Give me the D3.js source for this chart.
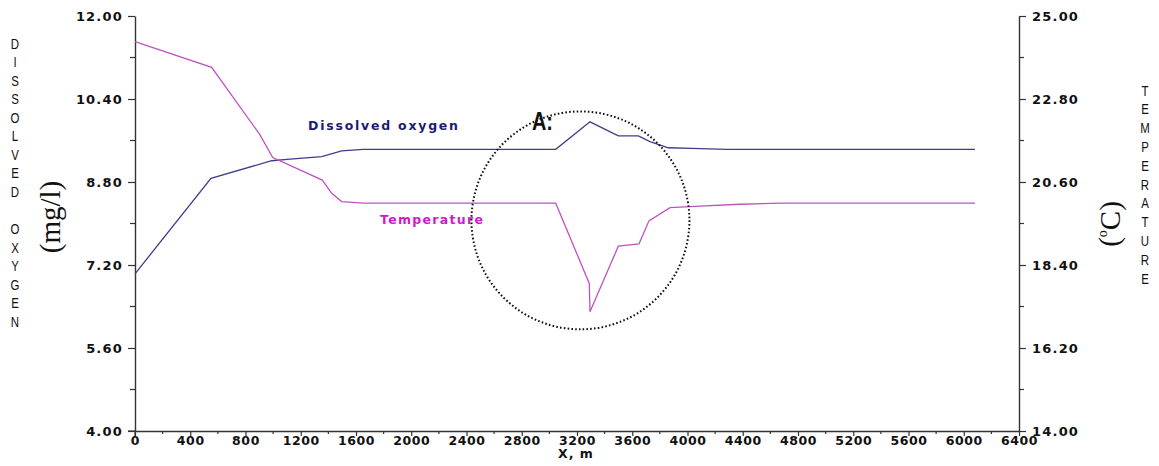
<!DOCTYPE html>
<html>
<head>
<meta charset="utf-8">
<script src="https://cdn.jsdelivr.net/npm/d3@7"></script>
<style>
  html, body { margin: 0; padding: 0; background: #fff; }
  svg { display: block; }
  .tick-label { font-family: "DejaVu Sans", Verdana, sans-serif; font-weight: bold; font-size: 13px; fill: #111; }
</style>
</head>
<body>
<svg id="chart" width="1159" height="466"></svg>
<script>
// ---- data ----
const doDist   = [0, 550, 990, 1122, 1352, 1496, 1653, 3046, 3294, 3499, 3644, 3728, 3861, 4030, 4284, 6081];
const doValues = [7.03, 8.87, 9.21, 9.24, 9.29, 9.40, 9.43, 9.43, 9.96, 9.69, 9.69, 9.58, 9.46, 9.45, 9.43, 9.43];

const tDist    = [0, 555, 905, 997, 1170, 1356, 1424, 1496, 1653, 3046, 3289, 3294, 3499, 3649, 3721, 3873, 4090, 4380, 4670, 6081];
const tValues  = [24.32, 23.64, 21.85, 21.25, 20.96, 20.65, 20.30, 20.08, 20.04, 20.04, 17.91, 17.16, 18.90, 18.96, 19.57, 19.92, 19.96, 20.01, 20.04, 20.04];

const xTicks      = [0, 400, 800, 1200, 1600, 2000, 2400, 2800, 3200, 3600, 4000, 4400, 4800, 5200, 5600, 6000, 6400];
const xMinorTicks = [200, 600, 1000, 1400, 1800, 2200, 2600, 3000, 3400, 3800, 4200, 4600, 5000, 5400, 5800, 6200];
const leftTicks   = [4.00, 5.60, 7.20, 8.80, 10.40, 12.00];
const leftMinor   = [4.80, 6.40, 8.00, 9.60, 11.20];
const rightTicks  = [14.00, 16.20, 18.40, 20.60, 22.80, 25.00];
const rightMinor  = [15.10, 17.30, 19.50, 21.70, 23.90];

const leftTitle  = "DISSOLVED OXYGEN";
const rightTitle = "TEMPERATURE";
const xTitle = "X, m";
const doLabel = "Dissolved oxygen";
const tLabel = "Temperature";
const markLabel = "A:";
// circled region (in data units): centre distance & DO value, radius in metres
const circleCentre = {x: 3225, y: 8.06};
const circleRadiusM = 789;

// ---- layout ----
const svg = d3.select("#chart");
const x  = d3.scaleLinear().domain([0, 6400]).range([135, 1019]);
const yL = d3.scaleLinear().domain([4, 12]).range([431, 16]);
const yR = d3.scaleLinear().domain([14, 25]).range([431, 16]);
const fmt = d3.format(".2f");
const axisColor = "#333";

// x axis
const gx = svg.append("g").attr("transform", "translate(0,431)")
  .call(d3.axisBottom(x).tickValues(xTicks).tickSize(5).tickSizeOuter(0).tickFormat(d3.format("d")));
gx.append("g").selectAll("line").data(xMinorTicks).join("line")
  .attr("x1", d => x(d)).attr("x2", d => x(d)).attr("y1", 0).attr("y2", 3);
gx.append("line").attr("x1", 128).attr("x2", x(0)).attr("y1", 0).attr("y2", 0);

// left axis
const gl = svg.append("g").attr("transform", "translate(135,0)")
  .call(d3.axisLeft(yL).tickValues(leftTicks).tickSize(7).tickSizeOuter(0).tickFormat(fmt));
gl.append("g").selectAll("line").data(leftMinor).join("line")
  .attr("x1", -5).attr("x2", 0).attr("y1", d => yL(d)).attr("y2", d => yL(d));
gl.append("line").attr("x1", 0).attr("x2", 0).attr("y1", 431).attr("y2", 436);

// right axis
const gr = svg.append("g").attr("transform", "translate(1019,0)")
  .call(d3.axisRight(yR).tickValues(rightTicks).tickSize(7).tickSizeOuter(0).tickFormat(fmt));
gr.append("g").selectAll("line").data(rightMinor).join("line")
  .attr("x1", 0).attr("x2", 5).attr("y1", d => yR(d)).attr("y2", d => yR(d));

[gx, gl, gr].forEach(g => {
  g.attr("font-size", null).attr("font-family", null);
  g.selectAll("path.domain").attr("stroke", axisColor).attr("stroke-width", 1.4);
  g.selectAll("line").attr("stroke", axisColor).attr("stroke-width", 1.2);
  g.selectAll("text").attr("class", "tick-label").attr("fill", "#111").style("letter-spacing", "1.2px");
});
gx.selectAll(".tick text").attr("dy", "0").attr("y", 13.5).style("font-size", "12.5px").style("letter-spacing", "0.6px");
gl.selectAll(".tick text").attr("x", -12).attr("dy", "0.38em");
gr.selectAll(".tick text").attr("x", 13).attr("dy", "0.34em");

// x title
svg.append("text").attr("x", 558).attr("y", 458).attr("class", "tick-label")
  .style("font-size", "12.5px").style("letter-spacing", "1px").text(xTitle);

// stacked vertical titles
function stacked(letters, cx, y0, step) {
  const g = svg.append("g").attr("transform", `translate(${cx},0) scale(0.74,1)`);
  g.selectAll("text").data(letters.split("")).join("text")
    .attr("x", 0).attr("y", (d, i) => y0 + i * step)
    .attr("text-anchor", "middle").attr("dy", "0.36em")
    .attr("font-family", "Liberation Sans, Arial, sans-serif").attr("font-size", 15.5)
    .attr("fill", "#111").text(d => d);
}
stacked(leftTitle, 15, 43, 18.55);
stacked(rightTitle, 1145, 90, 18.8);

// unit titles (rotated)
svg.append("text").attr("transform", "translate(50,217) rotate(-90)")
  .attr("text-anchor", "middle").attr("dy", "0.35em")
  .attr("font-family", "Liberation Serif, Times New Roman, serif").attr("font-size", 29)
  .attr("fill", "#111").text("(mg/l)");
const unitR = svg.append("text").attr("transform", "translate(1109,224) rotate(-90)")
  .attr("text-anchor", "middle").attr("dy", "0.35em")
  .attr("font-family", "Liberation Serif, Times New Roman, serif").attr("font-size", 29)
  .attr("fill", "#111");
unitR.append("tspan").text("(");
unitR.append("tspan").attr("font-size", 14).attr("dy", "-0.9em").text("o");
unitR.append("tspan").attr("dy", "0.45em").text("C)");

// lines
const doLine = d3.line().x((d, i) => x(doDist[i])).y(d => yL(d));
const tLine  = d3.line().x((d, i) => x(tDist[i])).y(d => yR(d));
svg.append("path").attr("d", doLine(doValues)).attr("fill", "none")
  .attr("stroke", "#3d3d8f").attr("stroke-width", 1.3);
svg.append("path").attr("d", tLine(tValues)).attr("fill", "none")
  .attr("stroke", "#c052c0").attr("stroke-width", 1.3);

// series labels
svg.append("text").attr("x", 308).attr("y", 130)
  .attr("font-family", "DejaVu Sans, Verdana, sans-serif").attr("font-weight", "bold")
  .attr("font-size", 12.5).attr("fill", "#1c1c70")
  .attr("textLength", 150).attr("lengthAdjust", "spacing").text(doLabel);
svg.append("text").attr("x", 380).attr("y", 224)
  .attr("font-family", "DejaVu Sans, Verdana, sans-serif").attr("font-weight", "bold")
  .attr("font-size", 12.5).attr("fill", "#cc1ccc")
  .attr("textLength", 103).attr("lengthAdjust", "spacing").text(tLabel);

// circled area
const r = x(circleRadiusM) - x(0);
svg.append("circle").attr("cx", x(circleCentre.x)).attr("cy", yL(circleCentre.y)).attr("r", r)
  .attr("fill", "none").attr("stroke", "#111").attr("stroke-width", 2)
  .attr("stroke-dasharray", "1.6 2.2");
svg.append("text").attr("x", 532).attr("y", 130)
  .attr("font-family", "Liberation Sans Narrow, Arial Narrow, Liberation Sans, sans-serif")
  .attr("font-weight", "bold").attr("font-size", 25).attr("fill", "#111")
  .attr("textLength", 21).attr("lengthAdjust", "spacingAndGlyphs").text(markLabel);
</script>
</body>
</html>
